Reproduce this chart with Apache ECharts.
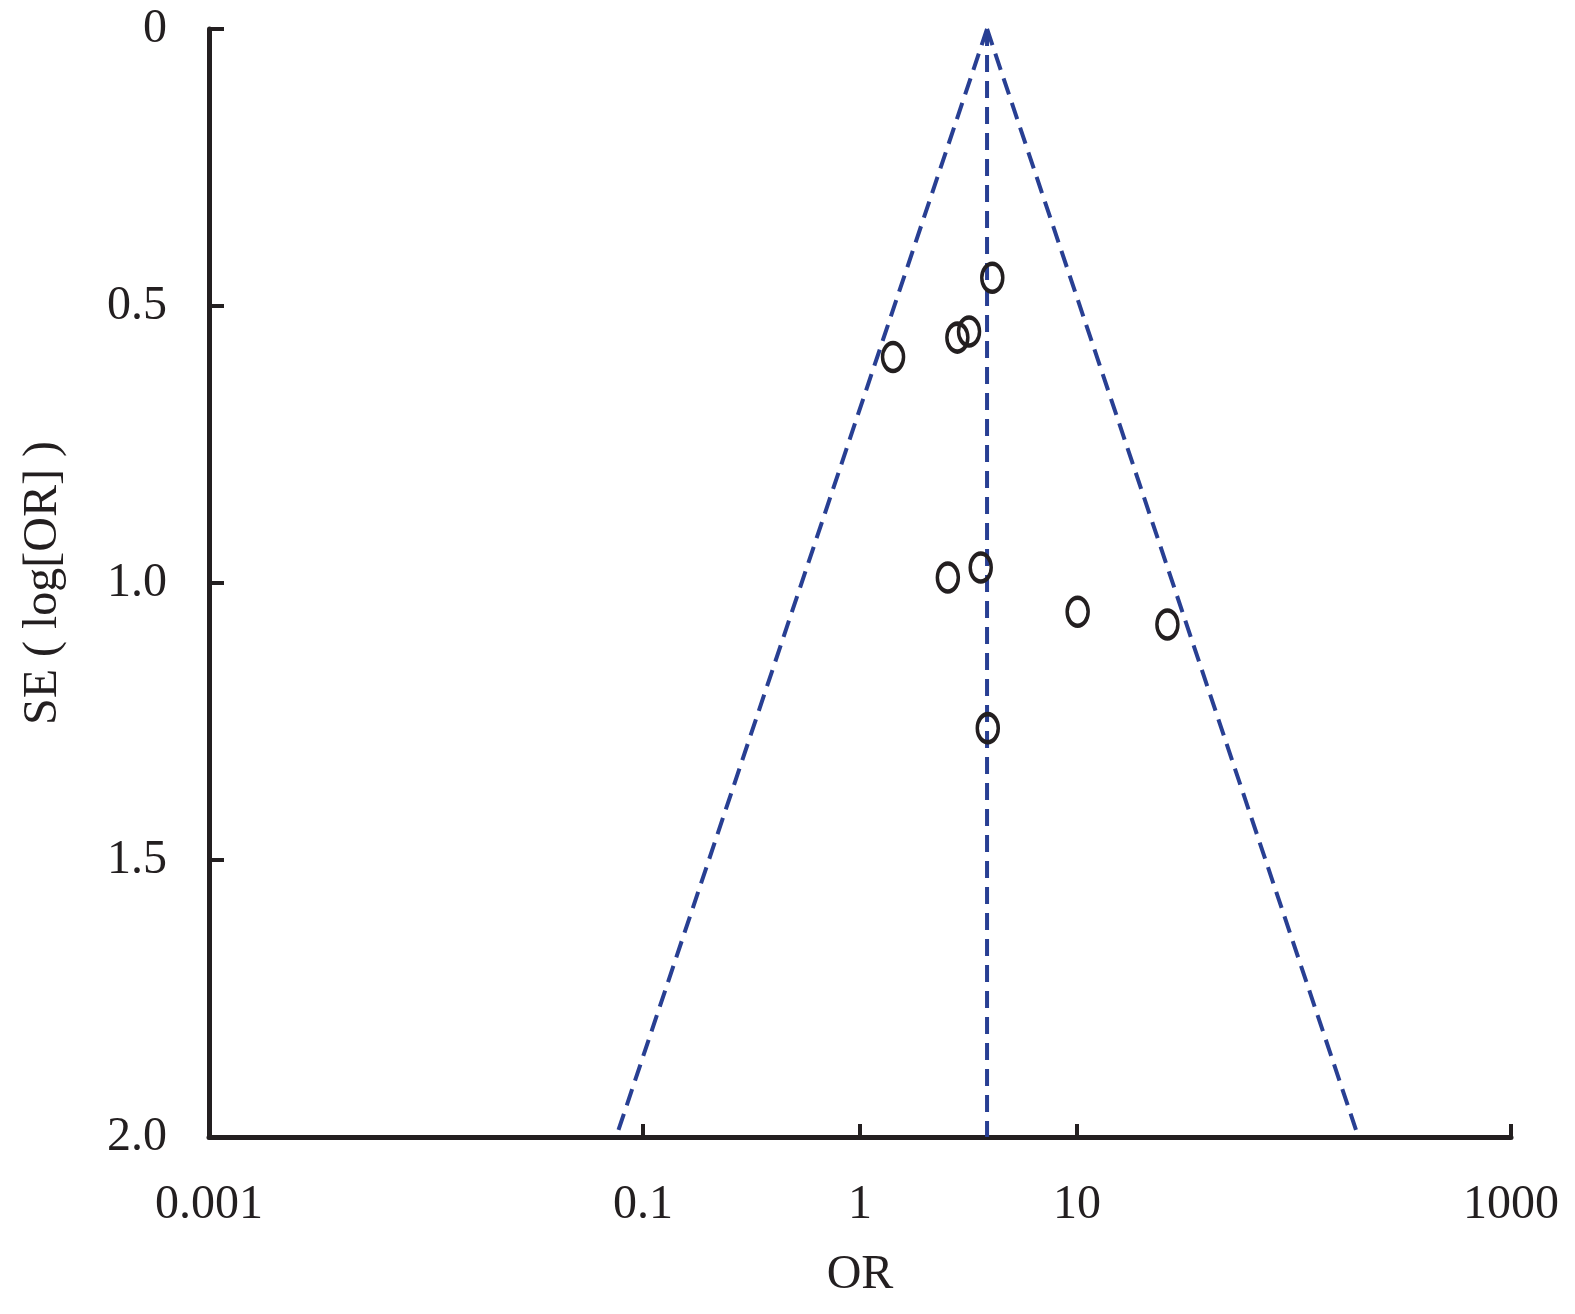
<!DOCTYPE html>
<html>
<head>
<meta charset="utf-8">
<script src="https://cdn.jsdelivr.net/npm/echarts@6/dist/echarts.min.js"></script>
<style>
html,body{margin:0;padding:0;background:#fff;}
#chart{width:1575px;height:1314px;}
</style>
</head>
<body>
<div id="chart"></div>
<script>
// Study points: odds ratio and standard error of log[OR]
const studyOR = [4.07, 3.18, 2.81, 1.42, 3.60, 2.54, 10.07, 26.1, 3.88];
const studySE = [0.449, 0.546, 0.557, 0.592, 0.972, 0.990, 1.052, 1.075, 1.262];

// Funnel lines: [OR, SE]
const pooledLine = [[3.85, 0], [3.85, 2.0]];
const leftLine = [[3.85, 0], [0.0752, 2.0]];
const rightLine = [[3.85, 0], [198, 2.0]];

// Axis ticks
const xTickValues = [0.001, 0.1, 1, 10, 1000];
const xTickLabels = ['0.001', '0.1', '1', '10', '1000'];
const yTickValues = [0, 0.5, 1.0, 1.5, 2.0];
const yTickLabels = ['0', '0.5', '1.0', '1.5', '2.0'];

const INK = '#231f20';
const BLUE = '#283f93';
const FONT = 'Liberation Serif';

const toXY = p => [Math.log10(p[0]), p[1]];
const xCustom = xTickValues.map(v => Math.log10(v));

function xLabel(v) {
  for (let i = 0; i < xCustom.length; i++) {
    if (Math.abs(xCustom[i] - v) < 1e-6) return xTickLabels[i];
  }
  return '';
}
function yLabel(v) {
  for (let i = 0; i < yTickValues.length; i++) {
    if (Math.abs(yTickValues[i] - v) < 1e-6) return yTickLabels[i];
  }
  return '';
}

const dashStyle = { color: BLUE, width: 4, type: [17, 9] };

const chart = echarts.init(document.getElementById('chart'));
chart.setOption({
  animation: false,
  backgroundColor: '#ffffff',
  grid: { left: 209, right: 64, top: 29, bottom: 177 },
  xAxis: {
    type: 'value',
    position: 'bottom',
    min: -3, max: 3,
    name: 'OR',
    nameLocation: 'middle',
    nameGap: 114,
    nameTextStyle: { fontFamily: FONT, fontSize: 48, color: INK },
    axisLine: { show: true, onZero: false, lineStyle: { color: INK, width: 5 } },
    axisTick: { show: true, inside: true, length: 13, lineStyle: { color: INK, width: 4 }, customValues: xCustom },
    axisLabel: { customValues: xCustom, formatter: xLabel, fontFamily: FONT, fontSize: 48, color: INK, margin: 44, showMinLabel: true, showMaxLabel: true },
    splitLine: { show: false }
  },
  yAxis: {
    type: 'value',
    position: 'left',
    inverse: true,
    min: 0, max: 2, interval: 0.5,
    name: 'SE ( log[OR] )',
    nameLocation: 'middle',
    nameGap: 142,
    nameTextStyle: { fontFamily: FONT, fontSize: 48, color: INK },
    axisLine: { show: true, onZero: false, lineStyle: { color: INK, width: 5 } },
    axisTick: { show: true, inside: true, length: 15, lineStyle: { color: INK, width: 4 } },
    axisLabel: { formatter: yLabel, fontFamily: FONT, fontSize: 48, color: INK, margin: 42 },
    splitLine: { show: false }
  },
  series: [
    { type: 'line', data: pooledLine.map(toXY), symbol: 'none', lineStyle: dashStyle, z: 2 },
    { type: 'line', data: leftLine.map(toXY), symbol: 'none', lineStyle: dashStyle, z: 2 },
    { type: 'line', data: rightLine.map(toXY), symbol: 'none', lineStyle: dashStyle, z: 2 },
    {
      type: 'scatter',
      data: studyOR.map((v, i) => [Math.log10(v), studySE[i]]),
      symbol: 'circle',
      symbolSize: [21, 28],
      itemStyle: { color: 'rgba(0,0,0,0)', borderColor: INK, borderWidth: 4, opacity: 1 },
      z: 5
    }
  ]
});
</script>
</body>
</html>
